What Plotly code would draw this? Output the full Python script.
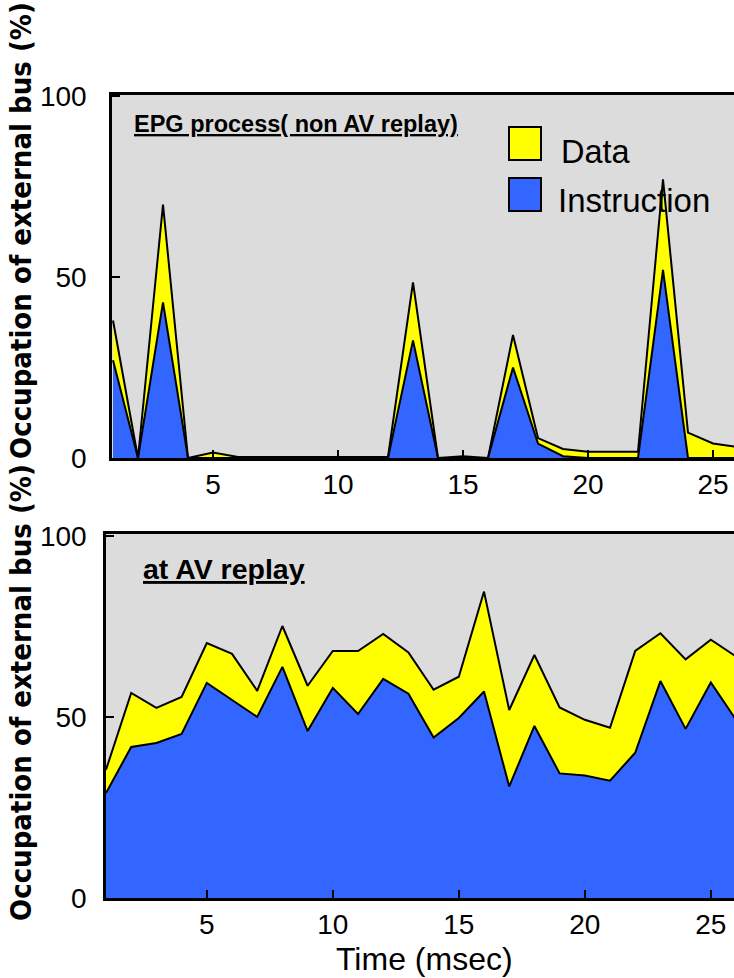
import plotly.graph_objects as go

W, H = 734, 978

# ---- data ----
time_ms = list(range(1, 27))
epg_instruction = [27, 0, 43, 0, 0, 0, 0, 0, 0, 0, 0, 0, 32.5, 0, 0, 0, 25, 4, 0.5, 0, 0, 0, 52, 0, 0, 0]
epg_data = [11, 0, 27, 0, 1.5, 0.3, 0.3, 0.3, 0.3, 0.3, 0.3, 0.3, 16, 0, 0.5, 0, 9, 1.5, 2, 1.7, 1.7, 1.7, 25, 7, 4, 3]
av_instruction = [29, 41.7, 42.8, 45.3, 59.4, 54.7, 50, 63.8, 46.1, 58, 50.8, 60.5, 56.4, 44.3, 49.7, 57,
                  30.8, 47.5, 34.4, 33.8, 32.4, 40.1, 59.9, 46.7, 59.5, 49.2]
av_data = [6.4, 14.9, 9.7, 10.2, 11.0, 12.7, 7.2, 11.3, 12.5, 10.2, 17.4, 12.4, 11.4, 13.2, 11.4, 27.6,
           21.1, 19.6, 18.2, 15.4, 14.6, 28.1, 13.2, 19.2, 11.8, 17.5]
x_ticks = [5, 10, 15, 20, 25]
y_ticks = [0, 50, 100]

BLUE = "#3366FF"
YELLOW = "#FFFF00"
BG = "#DCDCDC"
SANS = "Liberation Sans, Arial, sans-serif"
TICKFONT = dict(family=SANS, size=28, color="black")


def px_x(p):
    return p / W


def px_y(p):
    return 1 - p / H


fig = go.Figure()

for xa, ya, instr, data in [("x", "y", epg_instruction, epg_data), ("x2", "y2", av_instruction, av_data)]:
    fig.add_trace(go.Scatter(x=time_ms, y=instr, xaxis=xa, yaxis=ya, stackgroup="s" + xa,
                             mode="lines", line=dict(color="black", width=2),
                             fillcolor=BLUE, name="Instruction", showlegend=False))
    fig.add_trace(go.Scatter(x=time_ms, y=data, xaxis=xa, yaxis=ya, stackgroup="s" + xa,
                             mode="lines", line=dict(color="black", width=2),
                             fillcolor=YELLOW, name="Data", showlegend=False))

axis_common = dict(showgrid=False, zeroline=False, showline=True, linecolor="black", linewidth=2.5,
                   ticks="inside", ticklen=8, tickwidth=2, tickcolor="black", tickfont=TICKFONT,
                   automargin=False)

fig.update_layout(
    width=W, height=H,
    margin=dict(l=0, r=0, t=0, b=0),
    paper_bgcolor="white",
    plot_bgcolor=BG,
    showlegend=False,
    xaxis=dict(domain=[px_x(112), 1], range=[0.96, 25.84], tickvals=x_ticks, anchor="y",
               mirror=True, ticklabelstandoff=0, **axis_common),
    yaxis=dict(domain=[px_y(458), px_y(95)], range=[0, 100.3], tickvals=y_ticks, anchor="x",
               ticklabelstandoff=17, **axis_common),
    xaxis2=dict(domain=[px_x(106), 1], range=[1, 25.92], tickvals=x_ticks, anchor="y2",
                mirror=True, ticklabelstandoff=0, **axis_common),
    yaxis2=dict(domain=[px_y(898), px_y(534)], range=[0, 100.5], tickvals=y_ticks, anchor="x2",
                ticklabelstandoff=11, **axis_common),
)

annotations = []
ytitle = "<b>Occupation of external bus (%)</b>"
for cy in (231, 693):
    annotations.append(dict(text=ytitle, x=px_x(21), y=px_y(cy), xref="paper", yref="paper",
                            xanchor="center", yanchor="middle", textangle=-90, showarrow=False,
                            font=dict(family="DejaVu Sans Condensed, Liberation Sans Narrow, DejaVu Sans",
                                      size=29, color="black")))
annotations.append(dict(text="Time (msec)", x=px_x(424), y=px_y(959), xref="paper", yref="paper",
                        xanchor="center", yanchor="middle", showarrow=False,
                        font=dict(family=SANS, size=32, color="black")))
annotations.append(dict(text="<b>EPG process( non AV replay)</b>", x=px_x(132), y=px_y(124),
                        xref="paper", yref="paper", xanchor="left", yanchor="middle", showarrow=False,
                        font=dict(family=SANS, size=23.5, color="black", lineposition="under")))
annotations.append(dict(text="<b>at AV replay</b>", x=px_x(141), y=px_y(569),
                        xref="paper", yref="paper", xanchor="left", yanchor="middle", showarrow=False,
                        font=dict(family=SANS, size=28.5, color="black", lineposition="under")))
annotations.append(dict(text="Data", x=px_x(559), y=px_y(152), xref="paper", yref="paper",
                        xanchor="left", yanchor="middle", showarrow=False,
                        font=dict(family=SANS, size=32.5, color="black")))
annotations.append(dict(text="Instruction", x=px_x(556), y=px_y(200), xref="paper", yref="paper",
                        xanchor="left", yanchor="middle", showarrow=False,
                        font=dict(family=SANS, size=33, color="black")))

shapes = [
    dict(type="rect", xref="paper", yref="paper", x0=px_x(509), x1=px_x(541), y0=px_y(160), y1=px_y(127),
         fillcolor=YELLOW, line=dict(color="black", width=2)),
    dict(type="rect", xref="paper", yref="paper", x0=px_x(509), x1=px_x(541), y0=px_y(211), y1=px_y(178),
         fillcolor=BLUE, line=dict(color="black", width=2)),
]

fig.update_layout(annotations=annotations, shapes=shapes)
fig.write_html("out.html", config={"displayModeBar": False},
               post_script="document.body.style.margin='0';document.body.style.overflow='hidden';")
